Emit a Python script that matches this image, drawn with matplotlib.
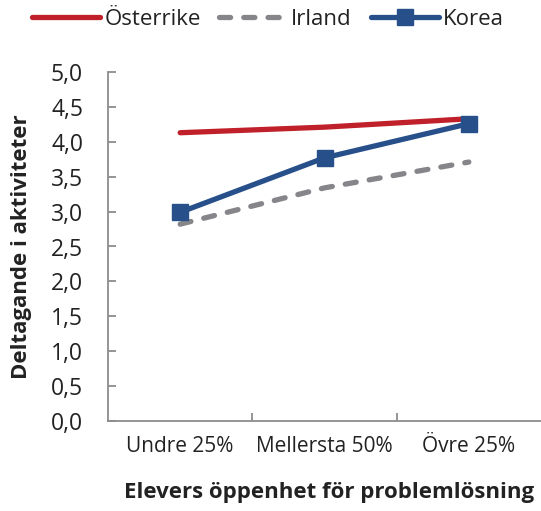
import matplotlib
matplotlib.use("Agg")
import matplotlib.pyplot as plt

categories = ["Undre 25%", "Mellersta 50%", "Övre 25%"]
osterrike = [4.13, 4.21, 4.33]
irland = [2.82, 3.34, 3.71]
korea = [2.99, 3.77, 4.26]
yticks = [0.0, 0.5, 1.0, 1.5, 2.0, 2.5, 3.0, 3.5, 4.0, 4.5, 5.0]
ytick_labels = ["0,0", "0,5", "1,0", "1,5", "2,0", "2,5", "3,0", "3,5", "4,0", "4,5", "5,0"]

plt.rcParams['font.family'] = ['Open Sans', 'DejaVu Sans']

RED = "#C0202A"
GRAY = "#86858A"
BLUE = "#27508A"
AX = "#8C8C8C"
TXT = "#222222"

W, H = 541, 511
fig = plt.figure(figsize=(W/100, H/100), dpi=100)
ax = fig.add_axes([108/W, 1-421/H, 433/W, (421-72)/H])

x = list(range(len(categories)))
ax.plot(x, osterrike, color=RED, lw=3.8, solid_capstyle='round', label="Österrike")
ax.plot(x, irland, color=GRAY, lw=3.8, dashes=(2.1, 2.5), dash_capstyle='round', label="Irland")
ax.plot(x, korea, color=BLUE, lw=3.8, marker='s', markersize=11, solid_capstyle='round', label="Korea")

ax.set_xlim(-0.5, 2.5)
ax.set_ylim(0, 5)
ax.set_yticks(yticks)
ax.set_yticklabels(ytick_labels, fontsize=16.5, color=TXT)
ax.set_xticks(x)
ax.set_xticklabels(categories, fontsize=15, color=TXT)
ax.tick_params(axis='x', length=0, pad=11)
ax.set_xticks([0.5, 1.5], minor=True)
ax.tick_params(axis='x', which='minor', direction='in', length=6, color=AX, width=1.3)
ax.tick_params(axis='y', direction='in', length=6, color=AX, width=1.3, pad=18)
for s in ['top', 'right']:
    ax.spines[s].set_visible(False)
for s in ['left', 'bottom']:
    ax.spines[s].set_color(AX)
    ax.spines[s].set_linewidth(1.3)

fig.text(22/W, 1-246.5/H, "Deltagande i aktiviteter", rotation=90, ha='center', va='center',
         fontsize=16, fontweight='bold', color=TXT)
fig.text(329/W, 1-498/H, "Elevers öppenhet för problemlösning", ha='center', va='baseline',
         fontsize=16, fontweight='bold', color=TXT)

fig.legend(loc='center', bbox_to_anchor=(268/W, 1-19.5/H), ncol=3, frameon=False,
           fontsize=16, handlelength=3.05, handletextpad=0.18, columnspacing=0.85,
           borderpad=0, borderaxespad=0, labelcolor=TXT)

fig.savefig("out.png", dpi=100)
